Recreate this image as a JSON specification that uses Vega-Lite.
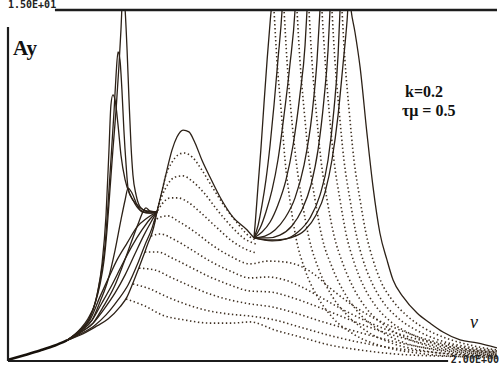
{
  "$schema": "https://vega.github.io/schema/vega-lite/v6.json",
  "width": 489,
  "height": 351,
  "autosize": {"type": "none"},
  "padding": {"left": 8, "top": 10, "right": 2, "bottom": 5},
  "background": "white",
  "config": {"view": {"stroke": null}},
  "datasets": {
    "base": [
      {"nu": 0, "Ay": 0.05}, {"nu": 0.07, "Ay": 0.26}, {"nu": 0.131, "Ay": 0.45},
      {"nu": 0.192, "Ay": 0.66}, {"nu": 0.241, "Ay": 0.88}
    ],
    "traced": [
      {"curve": "L1", "nu": 0.241, "Ay": 0.88}, {"curve": "L1", "nu": 0.294, "Ay": 1.3}, {"curve": "L1", "nu": 0.335, "Ay": 1.75}, {"curve": "L1", "nu": 0.376, "Ay": 2.74}, {"curve": "L1", "nu": 0.417, "Ay": 3.68}, {"curve": "L1", "nu": 0.446, "Ay": 4.32}, {"curve": "L1", "nu": 0.487, "Ay": 5.04}, {"curve": "L1", "nu": 0.528, "Ay": 5.73}, {"curve": "L1", "nu": 0.569, "Ay": 6.11}, {"curve": "L1", "nu": 0.609, "Ay": 6.37},
      {"curve": "L2", "nu": 0.241, "Ay": 0.88}, {"curve": "L2", "nu": 0.294, "Ay": 1.25}, {"curve": "L2", "nu": 0.344, "Ay": 1.75}, {"curve": "L2", "nu": 0.384, "Ay": 2.48}, {"curve": "L2", "nu": 0.425, "Ay": 3.25}, {"curve": "L2", "nu": 0.466, "Ay": 4.1}, {"curve": "L2", "nu": 0.507, "Ay": 4.91}, {"curve": "L2", "nu": 0.548, "Ay": 5.6}, {"curve": "L2", "nu": 0.581, "Ay": 6.07}, {"curve": "L2", "nu": 0.609, "Ay": 6.37},
      {"curve": "L3", "nu": 0.241, "Ay": 0.88}, {"curve": "L3", "nu": 0.294, "Ay": 1.2}, {"curve": "L3", "nu": 0.348, "Ay": 1.62}, {"curve": "L3", "nu": 0.393, "Ay": 2.22}, {"curve": "L3", "nu": 0.438, "Ay": 2.91}, {"curve": "L3", "nu": 0.479, "Ay": 3.68}, {"curve": "L3", "nu": 0.519, "Ay": 4.57}, {"curve": "L3", "nu": 0.556, "Ay": 5.38}, {"curve": "L3", "nu": 0.585, "Ay": 5.94}, {"curve": "L3", "nu": 0.609, "Ay": 6.37},
      {"curve": "L4", "nu": 0.241, "Ay": 0.88}, {"curve": "L4", "nu": 0.294, "Ay": 1.15}, {"curve": "L4", "nu": 0.352, "Ay": 1.5}, {"curve": "L4", "nu": 0.401, "Ay": 1.97}, {"curve": "L4", "nu": 0.45, "Ay": 2.61}, {"curve": "L4", "nu": 0.491, "Ay": 3.25}, {"curve": "L4", "nu": 0.528, "Ay": 4.1}, {"curve": "L4", "nu": 0.56, "Ay": 4.96}, {"curve": "L4", "nu": 0.589, "Ay": 5.68}, {"curve": "L4", "nu": 0.609, "Ay": 6.37},
      {"curve": "L5", "nu": 0.241, "Ay": 0.88}, {"curve": "L5", "nu": 0.294, "Ay": 1.1}, {"curve": "L5", "nu": 0.356, "Ay": 1.45}, {"curve": "L5", "nu": 0.409, "Ay": 1.79}, {"curve": "L5", "nu": 0.458, "Ay": 2.31}, {"curve": "L5", "nu": 0.487, "Ay": 2.74}, {"curve": "L5", "nu": 0.511, "Ay": 3.33}, {"curve": "L5", "nu": 0.532, "Ay": 3.89}, {"curve": "L5", "nu": 0.552, "Ay": 4.44}, {"curve": "L5", "nu": 0.573, "Ay": 5.04}, {"curve": "L5", "nu": 0.589, "Ay": 5.47}, {"curve": "L5", "nu": 0.601, "Ay": 5.94}, {"curve": "L5", "nu": 0.609, "Ay": 6.37},
      {"curve": "T1", "nu": 0.241, "Ay": 0.88}, {"curve": "T1", "nu": 0.294, "Ay": 1.35}, {"curve": "T1", "nu": 0.327, "Ay": 1.8}, {"curve": "T1", "nu": 0.356, "Ay": 2.45}, {"curve": "T1", "nu": 0.376, "Ay": 3.25}, {"curve": "T1", "nu": 0.393, "Ay": 4.32}, {"curve": "T1", "nu": 0.405, "Ay": 5.6}, {"curve": "T1", "nu": 0.417, "Ay": 7.31}, {"curve": "T1", "nu": 0.429, "Ay": 9.02}, {"curve": "T1", "nu": 0.442, "Ay": 10.73}, {"curve": "T1", "nu": 0.454, "Ay": 12.65}, {"curve": "T1", "nu": 0.462, "Ay": 14.15}, {"curve": "T1", "nu": 0.47, "Ay": 15.77}, {"curve": "T1", "nu": 0.479, "Ay": 15.0}, {"curve": "T1", "nu": 0.487, "Ay": 13.29}, {"curve": "T1", "nu": 0.495, "Ay": 11.15}, {"curve": "T1", "nu": 0.503, "Ay": 9.23}, {"curve": "T1", "nu": 0.511, "Ay": 7.95}, {"curve": "T1", "nu": 0.524, "Ay": 7.09}, {"curve": "T1", "nu": 0.544, "Ay": 6.54}, {"curve": "T1", "nu": 0.577, "Ay": 6.37}, {"curve": "T1", "nu": 0.609, "Ay": 6.37},
      {"curve": "T2", "nu": 0.241, "Ay": 0.88}, {"curve": "T2", "nu": 0.294, "Ay": 1.32}, {"curve": "T2", "nu": 0.331, "Ay": 1.78}, {"curve": "T2", "nu": 0.36, "Ay": 2.61}, {"curve": "T2", "nu": 0.38, "Ay": 3.68}, {"curve": "T2", "nu": 0.397, "Ay": 4.96}, {"curve": "T2", "nu": 0.409, "Ay": 6.67}, {"curve": "T2", "nu": 0.421, "Ay": 8.59}, {"curve": "T2", "nu": 0.434, "Ay": 10.73}, {"curve": "T2", "nu": 0.442, "Ay": 12.22}, {"curve": "T2", "nu": 0.45, "Ay": 13.21}, {"curve": "T2", "nu": 0.458, "Ay": 12.86}, {"curve": "T2", "nu": 0.466, "Ay": 11.58}, {"curve": "T2", "nu": 0.474, "Ay": 9.87}, {"curve": "T2", "nu": 0.483, "Ay": 8.38}, {"curve": "T2", "nu": 0.491, "Ay": 7.39}, {"curve": "T2", "nu": 0.511, "Ay": 6.88}, {"curve": "T2", "nu": 0.54, "Ay": 6.45}, {"curve": "T2", "nu": 0.581, "Ay": 6.32}, {"curve": "T2", "nu": 0.609, "Ay": 6.37},
      {"curve": "T3", "nu": 0.241, "Ay": 0.88}, {"curve": "T3", "nu": 0.294, "Ay": 1.3}, {"curve": "T3", "nu": 0.335, "Ay": 1.84}, {"curve": "T3", "nu": 0.364, "Ay": 2.82}, {"curve": "T3", "nu": 0.384, "Ay": 4.1}, {"curve": "T3", "nu": 0.401, "Ay": 6.24}, {"curve": "T3", "nu": 0.413, "Ay": 9.02}, {"curve": "T3", "nu": 0.421, "Ay": 10.94}, {"curve": "T3", "nu": 0.429, "Ay": 11.37}, {"curve": "T3", "nu": 0.438, "Ay": 11.15}, {"curve": "T3", "nu": 0.45, "Ay": 10.09}, {"curve": "T3", "nu": 0.462, "Ay": 8.8}, {"curve": "T3", "nu": 0.479, "Ay": 7.74}, {"curve": "T3", "nu": 0.499, "Ay": 7.09}, {"curve": "T3", "nu": 0.528, "Ay": 6.67}, {"curve": "T3", "nu": 0.569, "Ay": 6.41}, {"curve": "T3", "nu": 0.609, "Ay": 6.37},
      {"curve": "T4", "nu": 0.241, "Ay": 0.88}, {"curve": "T4", "nu": 0.294, "Ay": 1.27}, {"curve": "T4", "nu": 0.344, "Ay": 1.75}, {"curve": "T4", "nu": 0.376, "Ay": 2.52}, {"curve": "T4", "nu": 0.409, "Ay": 3.46}, {"curve": "T4", "nu": 0.438, "Ay": 4.74}, {"curve": "T4", "nu": 0.462, "Ay": 6.03}, {"curve": "T4", "nu": 0.479, "Ay": 6.88}, {"curve": "T4", "nu": 0.491, "Ay": 7.39}, {"curve": "T4", "nu": 0.507, "Ay": 7.18}, {"curve": "T4", "nu": 0.528, "Ay": 6.67}, {"curve": "T4", "nu": 0.548, "Ay": 6.37}, {"curve": "T4", "nu": 0.581, "Ay": 6.32}, {"curve": "T4", "nu": 0.609, "Ay": 6.37},
      {"curve": "T5", "nu": 0.241, "Ay": 0.88}, {"curve": "T5", "nu": 0.294, "Ay": 1.22}, {"curve": "T5", "nu": 0.348, "Ay": 1.62}, {"curve": "T5", "nu": 0.389, "Ay": 2.31}, {"curve": "T5", "nu": 0.434, "Ay": 3.16}, {"curve": "T5", "nu": 0.47, "Ay": 4.1}, {"curve": "T5", "nu": 0.503, "Ay": 5.04}, {"curve": "T5", "nu": 0.532, "Ay": 5.85}, {"curve": "T5", "nu": 0.552, "Ay": 6.37}, {"curve": "T5", "nu": 0.564, "Ay": 6.54}, {"curve": "T5", "nu": 0.581, "Ay": 6.41}, {"curve": "T5", "nu": 0.609, "Ay": 6.37},
      {"curve": "B", "nu": 0.609, "Ay": 6.37}, {"curve": "B", "nu": 0.634, "Ay": 7.44}, {"curve": "B", "nu": 0.65, "Ay": 8.16}, {"curve": "B", "nu": 0.671, "Ay": 9.02}, {"curve": "B", "nu": 0.691, "Ay": 9.57}, {"curve": "B", "nu": 0.716, "Ay": 9.87}, {"curve": "B", "nu": 0.74, "Ay": 9.79}, {"curve": "B", "nu": 0.765, "Ay": 9.32}, {"curve": "B", "nu": 0.793, "Ay": 8.59}, {"curve": "B", "nu": 0.826, "Ay": 7.86}, {"curve": "B", "nu": 0.867, "Ay": 7.01}, {"curve": "B", "nu": 0.92, "Ay": 6.15}, {"curve": "B", "nu": 0.978, "Ay": 5.6}, {"curve": "B", "nu": 1.006, "Ay": 5.26},
      {"curve": "R0", "nu": 1.006, "Ay": 5.26}, {"curve": "R0", "nu": 1.012, "Ay": 6.0}, {"curve": "R0", "nu": 1.022, "Ay": 7.4}, {"curve": "R0", "nu": 1.034, "Ay": 9.0}, {"curve": "R0", "nu": 1.047, "Ay": 11.0}, {"curve": "R0", "nu": 1.06, "Ay": 12.9}, {"curve": "R0", "nu": 1.073, "Ay": 14.6}, {"curve": "R0", "nu": 1.084, "Ay": 15.77},
      {"curve": "R1", "nu": 1.006, "Ay": 5.26}, {"curve": "R1", "nu": 1.023, "Ay": 5.81}, {"curve": "R1", "nu": 1.039, "Ay": 6.67}, {"curve": "R1", "nu": 1.055, "Ay": 7.74}, {"curve": "R1", "nu": 1.072, "Ay": 9.23}, {"curve": "R1", "nu": 1.088, "Ay": 10.94}, {"curve": "R1", "nu": 1.104, "Ay": 12.86}, {"curve": "R1", "nu": 1.121, "Ay": 15.0}, {"curve": "R1", "nu": 1.125, "Ay": 15.77},
      {"curve": "R2", "nu": 1.006, "Ay": 5.26}, {"curve": "R2", "nu": 1.031, "Ay": 5.68}, {"curve": "R2", "nu": 1.055, "Ay": 6.37}, {"curve": "R2", "nu": 1.08, "Ay": 7.31}, {"curve": "R2", "nu": 1.104, "Ay": 8.59}, {"curve": "R2", "nu": 1.129, "Ay": 10.51}, {"curve": "R2", "nu": 1.153, "Ay": 12.65}, {"curve": "R2", "nu": 1.174, "Ay": 15.0}, {"curve": "R2", "nu": 1.178, "Ay": 15.77},
      {"curve": "R3", "nu": 1.006, "Ay": 5.26}, {"curve": "R3", "nu": 1.039, "Ay": 5.51}, {"curve": "R3", "nu": 1.072, "Ay": 5.94}, {"curve": "R3", "nu": 1.104, "Ay": 6.67}, {"curve": "R3", "nu": 1.137, "Ay": 7.74}, {"curve": "R3", "nu": 1.166, "Ay": 9.23}, {"curve": "R3", "nu": 1.194, "Ay": 11.37}, {"curve": "R3", "nu": 1.215, "Ay": 13.5}, {"curve": "R3", "nu": 1.223, "Ay": 15.0}, {"curve": "R3", "nu": 1.227, "Ay": 15.77},
      {"curve": "R4", "nu": 1.006, "Ay": 5.26}, {"curve": "R4", "nu": 1.051, "Ay": 5.34}, {"curve": "R4", "nu": 1.092, "Ay": 5.6}, {"curve": "R4", "nu": 1.133, "Ay": 6.11}, {"curve": "R4", "nu": 1.174, "Ay": 6.97}, {"curve": "R4", "nu": 1.211, "Ay": 8.38}, {"curve": "R4", "nu": 1.243, "Ay": 10.51}, {"curve": "R4", "nu": 1.264, "Ay": 12.86}, {"curve": "R4", "nu": 1.276, "Ay": 15.0}, {"curve": "R4", "nu": 1.28, "Ay": 15.77},
      {"curve": "R5", "nu": 1.006, "Ay": 5.26}, {"curve": "R5", "nu": 1.063, "Ay": 5.26}, {"curve": "R5", "nu": 1.112, "Ay": 5.38}, {"curve": "R5", "nu": 1.161, "Ay": 5.77}, {"curve": "R5", "nu": 1.202, "Ay": 6.45}, {"curve": "R5", "nu": 1.239, "Ay": 7.52}, {"curve": "R5", "nu": 1.268, "Ay": 9.02}, {"curve": "R5", "nu": 1.292, "Ay": 11.15}, {"curve": "R5", "nu": 1.309, "Ay": 13.29}, {"curve": "R5", "nu": 1.317, "Ay": 15.0}, {"curve": "R5", "nu": 1.321, "Ay": 15.77},
      {"curve": "R6", "nu": 1.006, "Ay": 5.26}, {"curve": "R6", "nu": 1.072, "Ay": 5.17}, {"curve": "R6", "nu": 1.133, "Ay": 5.21}, {"curve": "R6", "nu": 1.186, "Ay": 5.51}, {"curve": "R6", "nu": 1.235, "Ay": 6.11}, {"curve": "R6", "nu": 1.276, "Ay": 7.09}, {"curve": "R6", "nu": 1.309, "Ay": 8.59}, {"curve": "R6", "nu": 1.333, "Ay": 10.73}, {"curve": "R6", "nu": 1.35, "Ay": 13.08}, {"curve": "R6", "nu": 1.358, "Ay": 15.0}, {"curve": "R6", "nu": 1.362, "Ay": 15.77},
      {"curve": "R7", "nu": 1.006, "Ay": 5.26}, {"curve": "R7", "nu": 1.08, "Ay": 5.13}, {"curve": "R7", "nu": 1.153, "Ay": 5.26}, {"curve": "R7", "nu": 1.215, "Ay": 5.6}, {"curve": "R7", "nu": 1.26, "Ay": 6.24}, {"curve": "R7", "nu": 1.297, "Ay": 7.22}, {"curve": "R7", "nu": 1.325, "Ay": 8.59}, {"curve": "R7", "nu": 1.35, "Ay": 10.51}, {"curve": "R7", "nu": 1.37, "Ay": 12.65}, {"curve": "R7", "nu": 1.387, "Ay": 14.57}, {"curve": "R7", "nu": 1.395, "Ay": 15.77}, {"curve": "R7", "nu": 1.403, "Ay": 15.0}, {"curve": "R7", "nu": 1.419, "Ay": 14.06}, {"curve": "R7", "nu": 1.44, "Ay": 12.56}, {"curve": "R7", "nu": 1.468, "Ay": 9.74}, {"curve": "R7", "nu": 1.493, "Ay": 7.44}, {"curve": "R7", "nu": 1.521, "Ay": 5.47}, {"curve": "R7", "nu": 1.55, "Ay": 4.32}, {"curve": "R7", "nu": 1.575, "Ay": 3.46}, {"curve": "R7", "nu": 1.616, "Ay": 2.74}, {"curve": "R7", "nu": 1.673, "Ay": 2.05}, {"curve": "R7", "nu": 1.726, "Ay": 1.62}, {"curve": "R7", "nu": 1.779, "Ay": 1.24}, {"curve": "R7", "nu": 1.849, "Ay": 0.9}, {"curve": "R7", "nu": 1.918, "Ay": 0.77}, {"curve": "R7", "nu": 2.0, "Ay": 0.56}
    ],
    "sampled": [
      {"curve": "a", "nu": 0.609, "Ay": 6.37}, {"curve": "a", "nu": 0.626, "Ay": 7.09}, {"curve": "a", "nu": 0.646, "Ay": 7.95}, {"curve": "a", "nu": 0.671, "Ay": 8.5}, {"curve": "a", "nu": 0.695, "Ay": 8.8}, {"curve": "a", "nu": 0.72, "Ay": 8.89}, {"curve": "a", "nu": 0.753, "Ay": 8.72}, {"curve": "a", "nu": 0.793, "Ay": 8.16}, {"curve": "a", "nu": 0.838, "Ay": 7.39}, {"curve": "a", "nu": 0.888, "Ay": 6.58}, {"curve": "a", "nu": 0.941, "Ay": 5.85}, {"curve": "a", "nu": 0.99, "Ay": 5.3}, {"curve": "a", "nu": 1.014, "Ay": 5.17},
      {"curve": "b", "nu": 0.609, "Ay": 6.37}, {"curve": "b", "nu": 0.63, "Ay": 7.05}, {"curve": "b", "nu": 0.654, "Ay": 7.56}, {"curve": "b", "nu": 0.683, "Ay": 7.86}, {"curve": "b", "nu": 0.716, "Ay": 7.91}, {"curve": "b", "nu": 0.753, "Ay": 7.69}, {"curve": "b", "nu": 0.802, "Ay": 7.18}, {"curve": "b", "nu": 0.859, "Ay": 6.41}, {"curve": "b", "nu": 0.92, "Ay": 5.68}, {"curve": "b", "nu": 0.969, "Ay": 5.21}, {"curve": "b", "nu": 1.014, "Ay": 5.0},
      {"curve": "c", "nu": 0.605, "Ay": 6.28}, {"curve": "c", "nu": 0.63, "Ay": 6.71}, {"curve": "c", "nu": 0.663, "Ay": 6.97}, {"curve": "c", "nu": 0.695, "Ay": 6.97}, {"curve": "c", "nu": 0.736, "Ay": 6.79}, {"curve": "c", "nu": 0.785, "Ay": 6.37}, {"curve": "c", "nu": 0.847, "Ay": 5.77}, {"curve": "c", "nu": 0.916, "Ay": 5.13}, {"curve": "c", "nu": 0.969, "Ay": 4.79}, {"curve": "c", "nu": 1.014, "Ay": 4.62},
      {"curve": "d", "nu": 0.597, "Ay": 5.94}, {"curve": "d", "nu": 0.622, "Ay": 6.15}, {"curve": "d", "nu": 0.654, "Ay": 6.2}, {"curve": "d", "nu": 0.695, "Ay": 5.98}, {"curve": "d", "nu": 0.765, "Ay": 5.51}, {"curve": "d", "nu": 0.834, "Ay": 4.96}, {"curve": "d", "nu": 0.908, "Ay": 4.49}, {"curve": "d", "nu": 0.99, "Ay": 4.15}, {"curve": "d", "nu": 1.063, "Ay": 4.27}, {"curve": "d", "nu": 1.133, "Ay": 4.23}, {"curve": "d", "nu": 1.194, "Ay": 4.06}, {"curve": "d", "nu": 1.256, "Ay": 3.68}, {"curve": "d", "nu": 1.317, "Ay": 3.12}, {"curve": "d", "nu": 1.391, "Ay": 2.52}, {"curve": "d", "nu": 1.481, "Ay": 1.92}, {"curve": "d", "nu": 1.583, "Ay": 1.41}, {"curve": "d", "nu": 1.706, "Ay": 0.94}, {"curve": "d", "nu": 1.849, "Ay": 0.6}, {"curve": "d", "nu": 2.0, "Ay": 0.38},
      {"curve": "e", "nu": 0.585, "Ay": 5.34}, {"curve": "e", "nu": 0.622, "Ay": 5.43}, {"curve": "e", "nu": 0.683, "Ay": 5.17}, {"curve": "e", "nu": 0.753, "Ay": 4.74}, {"curve": "e", "nu": 0.826, "Ay": 4.27}, {"curve": "e", "nu": 0.908, "Ay": 3.85}, {"curve": "e", "nu": 0.99, "Ay": 3.55}, {"curve": "e", "nu": 1.063, "Ay": 3.59}, {"curve": "e", "nu": 1.133, "Ay": 3.46}, {"curve": "e", "nu": 1.202, "Ay": 3.16}, {"curve": "e", "nu": 1.276, "Ay": 2.74}, {"curve": "e", "nu": 1.358, "Ay": 2.26}, {"curve": "e", "nu": 1.448, "Ay": 1.79}, {"curve": "e", "nu": 1.554, "Ay": 1.32}, {"curve": "e", "nu": 1.685, "Ay": 0.9}, {"curve": "e", "nu": 1.832, "Ay": 0.56}, {"curve": "e", "nu": 2.0, "Ay": 0.34},
      {"curve": "f", "nu": 0.56, "Ay": 4.66}, {"curve": "f", "nu": 0.613, "Ay": 4.66}, {"curve": "f", "nu": 0.671, "Ay": 4.4}, {"curve": "f", "nu": 0.744, "Ay": 4.02}, {"curve": "f", "nu": 0.826, "Ay": 3.59}, {"curve": "f", "nu": 0.908, "Ay": 3.25}, {"curve": "f", "nu": 0.99, "Ay": 2.99}, {"curve": "f", "nu": 1.072, "Ay": 2.95}, {"curve": "f", "nu": 1.153, "Ay": 2.74}, {"curve": "f", "nu": 1.235, "Ay": 2.44}, {"curve": "f", "nu": 1.329, "Ay": 2.05}, {"curve": "f", "nu": 1.432, "Ay": 1.62}, {"curve": "f", "nu": 1.546, "Ay": 1.2}, {"curve": "f", "nu": 1.677, "Ay": 0.81}, {"curve": "f", "nu": 1.828, "Ay": 0.51}, {"curve": "f", "nu": 2.0, "Ay": 0.3},
      {"curve": "g", "nu": 0.536, "Ay": 3.97}, {"curve": "g", "nu": 0.601, "Ay": 3.89}, {"curve": "g", "nu": 0.663, "Ay": 3.59}, {"curve": "g", "nu": 0.744, "Ay": 3.21}, {"curve": "g", "nu": 0.826, "Ay": 2.86}, {"curve": "g", "nu": 0.908, "Ay": 2.61}, {"curve": "g", "nu": 0.99, "Ay": 2.44}, {"curve": "g", "nu": 1.08, "Ay": 2.31}, {"curve": "g", "nu": 1.174, "Ay": 2.05}, {"curve": "g", "nu": 1.276, "Ay": 1.71}, {"curve": "g", "nu": 1.387, "Ay": 1.37}, {"curve": "g", "nu": 1.505, "Ay": 1.03}, {"curve": "g", "nu": 1.644, "Ay": 0.68}, {"curve": "g", "nu": 1.808, "Ay": 0.43}, {"curve": "g", "nu": 2.0, "Ay": 0.26},
      {"curve": "h", "nu": 0.511, "Ay": 3.29}, {"curve": "h", "nu": 0.581, "Ay": 3.08}, {"curve": "h", "nu": 0.642, "Ay": 2.78}, {"curve": "h", "nu": 0.724, "Ay": 2.44}, {"curve": "h", "nu": 0.806, "Ay": 2.18}, {"curve": "h", "nu": 0.9, "Ay": 2.01}, {"curve": "h", "nu": 0.99, "Ay": 1.92}, {"curve": "h", "nu": 1.092, "Ay": 1.75}, {"curve": "h", "nu": 1.194, "Ay": 1.45}, {"curve": "h", "nu": 1.309, "Ay": 1.11}, {"curve": "h", "nu": 1.432, "Ay": 0.81}, {"curve": "h", "nu": 1.571, "Ay": 0.56}, {"curve": "h", "nu": 1.726, "Ay": 0.38}, {"curve": "h", "nu": 1.89, "Ay": 0.26}, {"curve": "h", "nu": 2.0, "Ay": 0.21},
      {"curve": "i", "nu": 0.483, "Ay": 2.65}, {"curve": "i", "nu": 0.56, "Ay": 2.35}, {"curve": "i", "nu": 0.63, "Ay": 1.97}, {"curve": "i", "nu": 0.724, "Ay": 1.75}, {"curve": "i", "nu": 0.826, "Ay": 1.62}, {"curve": "i", "nu": 0.916, "Ay": 1.62}, {"curve": "i", "nu": 0.99, "Ay": 1.67}, {"curve": "i", "nu": 1.092, "Ay": 1.32}, {"curve": "i", "nu": 1.194, "Ay": 1.03}, {"curve": "i", "nu": 1.317, "Ay": 0.68}, {"curve": "i", "nu": 1.44, "Ay": 0.47}, {"curve": "i", "nu": 1.583, "Ay": 0.3}, {"curve": "i", "nu": 1.767, "Ay": 0.21}, {"curve": "i", "nu": 2.0, "Ay": 0.17},
      {"curve": "F0", "nu": 1.084, "Ay": 15.77}, {"curve": "F0", "nu": 1.088, "Ay": 15.0}, {"curve": "F0", "nu": 1.1, "Ay": 12.86}, {"curve": "F0", "nu": 1.117, "Ay": 10.73}, {"curve": "F0", "nu": 1.133, "Ay": 8.59}, {"curve": "F0", "nu": 1.153, "Ay": 6.88}, {"curve": "F0", "nu": 1.178, "Ay": 5.26}, {"curve": "F0", "nu": 1.215, "Ay": 3.89}, {"curve": "F0", "nu": 1.264, "Ay": 2.78}, {"curve": "F0", "nu": 1.329, "Ay": 1.84}, {"curve": "F0", "nu": 1.419, "Ay": 1.11}, {"curve": "F0", "nu": 1.542, "Ay": 0.6}, {"curve": "F0", "nu": 1.706, "Ay": 0.3}, {"curve": "F0", "nu": 1.89, "Ay": 0.17}, {"curve": "F0", "nu": 2.0, "Ay": 0.13},
      {"curve": "F1", "nu": 1.125, "Ay": 15.77}, {"curve": "F1", "nu": 1.129, "Ay": 15.0}, {"curve": "F1", "nu": 1.141, "Ay": 12.86}, {"curve": "F1", "nu": 1.157, "Ay": 10.73}, {"curve": "F1", "nu": 1.178, "Ay": 8.59}, {"curve": "F1", "nu": 1.202, "Ay": 6.88}, {"curve": "F1", "nu": 1.231, "Ay": 5.26}, {"curve": "F1", "nu": 1.272, "Ay": 3.89}, {"curve": "F1", "nu": 1.325, "Ay": 2.78}, {"curve": "F1", "nu": 1.391, "Ay": 1.92}, {"curve": "F1", "nu": 1.472, "Ay": 1.24}, {"curve": "F1", "nu": 1.579, "Ay": 0.73}, {"curve": "F1", "nu": 1.706, "Ay": 0.43}, {"curve": "F1", "nu": 1.849, "Ay": 0.26}, {"curve": "F1", "nu": 2.0, "Ay": 0.21},
      {"curve": "F2", "nu": 1.178, "Ay": 15.77}, {"curve": "F2", "nu": 1.182, "Ay": 15.0}, {"curve": "F2", "nu": 1.194, "Ay": 12.86}, {"curve": "F2", "nu": 1.211, "Ay": 10.73}, {"curve": "F2", "nu": 1.231, "Ay": 8.59}, {"curve": "F2", "nu": 1.256, "Ay": 6.88}, {"curve": "F2", "nu": 1.284, "Ay": 5.3}, {"curve": "F2", "nu": 1.325, "Ay": 4.02}, {"curve": "F2", "nu": 1.374, "Ay": 2.95}, {"curve": "F2", "nu": 1.432, "Ay": 2.09}, {"curve": "F2", "nu": 1.505, "Ay": 1.41}, {"curve": "F2", "nu": 1.603, "Ay": 0.85}, {"curve": "F2", "nu": 1.726, "Ay": 0.51}, {"curve": "F2", "nu": 1.857, "Ay": 0.34}, {"curve": "F2", "nu": 2.0, "Ay": 0.26},
      {"curve": "F3", "nu": 1.227, "Ay": 15.77}, {"curve": "F3", "nu": 1.231, "Ay": 15.0}, {"curve": "F3", "nu": 1.243, "Ay": 12.86}, {"curve": "F3", "nu": 1.26, "Ay": 10.73}, {"curve": "F3", "nu": 1.28, "Ay": 8.59}, {"curve": "F3", "nu": 1.305, "Ay": 6.88}, {"curve": "F3", "nu": 1.333, "Ay": 5.38}, {"curve": "F3", "nu": 1.37, "Ay": 4.15}, {"curve": "F3", "nu": 1.415, "Ay": 3.08}, {"curve": "F3", "nu": 1.468, "Ay": 2.22}, {"curve": "F3", "nu": 1.538, "Ay": 1.54}, {"curve": "F3", "nu": 1.628, "Ay": 0.98}, {"curve": "F3", "nu": 1.738, "Ay": 0.6}, {"curve": "F3", "nu": 1.861, "Ay": 0.43}, {"curve": "F3", "nu": 2.0, "Ay": 0.34},
      {"curve": "F4", "nu": 1.28, "Ay": 15.77}, {"curve": "F4", "nu": 1.284, "Ay": 15.0}, {"curve": "F4", "nu": 1.297, "Ay": 12.86}, {"curve": "F4", "nu": 1.313, "Ay": 10.73}, {"curve": "F4", "nu": 1.333, "Ay": 8.59}, {"curve": "F4", "nu": 1.358, "Ay": 6.88}, {"curve": "F4", "nu": 1.382, "Ay": 5.47}, {"curve": "F4", "nu": 1.415, "Ay": 4.23}, {"curve": "F4", "nu": 1.452, "Ay": 3.25}, {"curve": "F4", "nu": 1.501, "Ay": 2.39}, {"curve": "F4", "nu": 1.562, "Ay": 1.71}, {"curve": "F4", "nu": 1.648, "Ay": 1.15}, {"curve": "F4", "nu": 1.755, "Ay": 0.73}, {"curve": "F4", "nu": 1.869, "Ay": 0.51}, {"curve": "F4", "nu": 2.0, "Ay": 0.38},
      {"curve": "F5", "nu": 1.321, "Ay": 15.77}, {"curve": "F5", "nu": 1.325, "Ay": 15.0}, {"curve": "F5", "nu": 1.337, "Ay": 12.86}, {"curve": "F5", "nu": 1.354, "Ay": 10.73}, {"curve": "F5", "nu": 1.374, "Ay": 8.59}, {"curve": "F5", "nu": 1.399, "Ay": 6.88}, {"curve": "F5", "nu": 1.423, "Ay": 5.47}, {"curve": "F5", "nu": 1.452, "Ay": 4.32}, {"curve": "F5", "nu": 1.489, "Ay": 3.33}, {"curve": "F5", "nu": 1.534, "Ay": 2.52}, {"curve": "F5", "nu": 1.595, "Ay": 1.84}, {"curve": "F5", "nu": 1.677, "Ay": 1.28}, {"curve": "F5", "nu": 1.775, "Ay": 0.85}, {"curve": "F5", "nu": 1.881, "Ay": 0.6}, {"curve": "F5", "nu": 2.0, "Ay": 0.43},
      {"curve": "F6", "nu": 1.362, "Ay": 15.77}, {"curve": "F6", "nu": 1.366, "Ay": 15.0}, {"curve": "F6", "nu": 1.378, "Ay": 12.86}, {"curve": "F6", "nu": 1.395, "Ay": 10.73}, {"curve": "F6", "nu": 1.415, "Ay": 8.59}, {"curve": "F6", "nu": 1.44, "Ay": 6.88}, {"curve": "F6", "nu": 1.464, "Ay": 5.47}, {"curve": "F6", "nu": 1.493, "Ay": 4.32}, {"curve": "F6", "nu": 1.526, "Ay": 3.38}, {"curve": "F6", "nu": 1.571, "Ay": 2.61}, {"curve": "F6", "nu": 1.628, "Ay": 1.97}, {"curve": "F6", "nu": 1.701, "Ay": 1.41}, {"curve": "F6", "nu": 1.791, "Ay": 0.98}, {"curve": "F6", "nu": 1.89, "Ay": 0.68}, {"curve": "F6", "nu": 2.0, "Ay": 0.47}
    ]
  },
  "encoding": {
    "x": {"field": "nu", "type": "quantitative", "scale": {"domain": [0, 2], "nice": false, "zero": false}, "axis": null},
    "y": {"field": "Ay", "type": "quantitative", "scale": {"domain": [0, 15], "nice": false, "zero": false}, "axis": null}
  },
  "layer": [
    {
      "data": {"name": "sampled"},
      "mark": {"type": "line", "clip": true, "interpolate": "monotone", "color": "#3f3022", "strokeWidth": 1.6, "strokeDash": [1.4, 2.6]},
      "encoding": {"detail": {"field": "curve"}}
    },
    {
      "data": {"name": "traced"},
      "mark": {"type": "line", "clip": true, "interpolate": "monotone", "color": "#2c2117", "strokeWidth": 1.3},
      "encoding": {"detail": {"field": "curve"}}
    },
    {
      "data": {"name": "base"},
      "mark": {"type": "line", "clip": true, "interpolate": "monotone", "color": "#17110b", "strokeWidth": 2.6}
    },
    {
      "data": {"values": [{"from": 0.192, "to": 2, "level": 15}]},
      "mark": {"type": "rule", "color": "#1c1c1c", "strokeWidth": 2.4},
      "encoding": {"x": {"field": "from"}, "x2": {"field": "to"}, "y": {"field": "level"}}
    },
    {
      "data": {"values": [{"from": 0, "to": 1.8, "level": 0}]},
      "mark": {"type": "rule", "color": "#1c1c1c", "strokeWidth": 2.2},
      "encoding": {"x": {"field": "from"}, "x2": {"field": "to"}, "y": {"field": "level"}}
    },
    {
      "data": {"values": [{"at": 0, "low": 0, "high": 14.27}]},
      "mark": {"type": "rule", "color": "#1c1c1c", "strokeWidth": 2.2},
      "encoding": {"x": {"field": "at"}, "y": {"field": "low"}, "y2": {"field": "high"}}
    },
    {
      "data": {"values": [{"nu": 0, "Ay": 15, "label": "1.50E+01"}]},
      "mark": {"type": "text", "font": "DejaVu Sans Mono", "fontWeight": "bold", "fontSize": 10, "align": "left", "baseline": "top", "dy": -10, "color": "#222"},
      "encoding": {"text": {"field": "label"}}
    },
    {
      "data": {"values": [{"nu": 2, "Ay": 0, "label": "2.00E+00"}]},
      "mark": {"type": "text", "font": "DejaVu Sans Mono", "fontWeight": "bold", "fontSize": 10, "align": "right", "baseline": "middle", "dx": 2, "dy": -1, "color": "#222"},
      "encoding": {"text": {"field": "label"}}
    },
    {
      "data": {"values": [{"nu": 0.02, "Ay": 13.08, "label": "Ay"}]},
      "mark": {"type": "text", "font": "Liberation Serif", "fontWeight": "bold", "fontSize": 21, "align": "left", "baseline": "alphabetic", "color": "#111"},
      "encoding": {"text": {"field": "label"}}
    },
    {
      "data": {"values": [{"nu": 1.624, "Ay": 11.28, "label": "k=0.2"}, {"nu": 1.611, "Ay": 10.47, "label": "τμ = 0.5"}]},
      "mark": {"type": "text", "font": "Liberation Serif", "fontWeight": "bold", "fontSize": 16, "align": "left", "baseline": "alphabetic", "color": "#111"},
      "encoding": {"text": {"field": "label"}}
    },
    {
      "data": {"values": [{"nu": 1.89, "Ay": 1.41, "label": "ν"}]},
      "mark": {"type": "text", "font": "Liberation Serif", "fontStyle": "italic", "fontSize": 18, "align": "left", "baseline": "alphabetic", "color": "#111"},
      "encoding": {"text": {"field": "label"}}
    }
  ]
}
